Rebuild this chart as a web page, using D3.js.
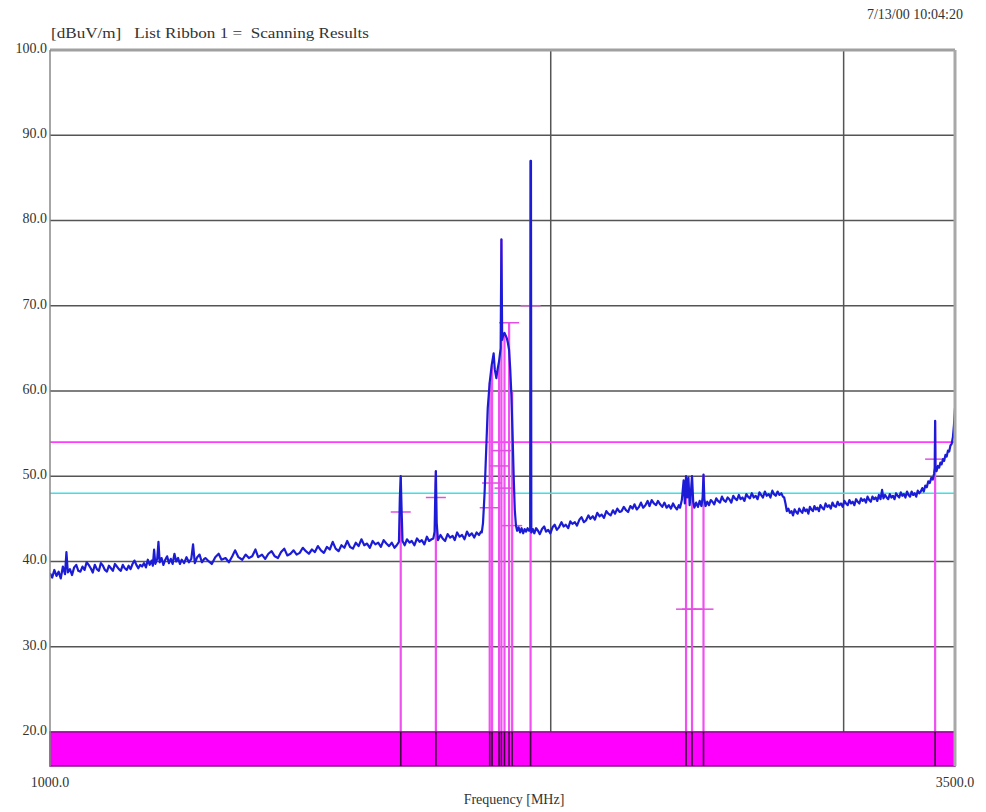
<!DOCTYPE html>
<html>
<head>
<meta charset="utf-8">
<script src="https://cdn.jsdelivr.net/npm/d3@7"></script>
<style>
  html, body { margin: 0; padding: 0; background: #fff; }
  svg { display: block; }
  text { font-family: "Liberation Serif", "DejaVu Serif", serif; fill: #333; }
</style>
</head>
<body>
<script>
// Scan trace: [frequency MHz, level dBuV/m]
const scan = [
  [1000,38.6],[1003,38.1],[1006,39.0],[1009,38.3],[1012,38.8],[1015,38.0],[1018,39.4],[1021,38.5],[1023,41.1],[1025,38.7],
  [1028,39.1],[1031,38.4],[1034,39.3],[1037,39.6],[1040,38.9],[1043,38.8],[1046,39.4],[1049,39.0],[1052,39.9],[1055,39.6],
  [1058,39.2],[1061,38.7],[1064,39.6],[1067,39.1],[1070,38.9],[1073,39.8],[1076,39.5],[1079,39.0],[1082,38.8],[1085,39.5],
  [1088,39.2],[1091,38.9],[1094,39.7],[1097,39.4],[1100,39.1],[1103,38.9],[1106,39.6],[1109,39.2],[1112,39.0],[1115,39.5],
  [1118,39.1],[1121,39.7],[1124,40.1],[1127,39.6],[1130,39.2],[1133,39.6],[1136,39.4],[1139,39.8],[1142,39.3],[1145,40.2],
  [1148,39.6],[1151,40.1],[1153,39.5],[1155,41.4],[1157,39.7],[1160,40.3],[1162,42.3],[1164,39.9],[1167,40.4],[1170,39.6],
  [1173,40.2],[1176,40.6],[1179,39.8],[1182,40.3],[1185,39.7],[1188,40.9],[1191,40.0],[1194,40.4],[1197,39.7],[1200,40.2],
  [1204,39.8],[1208,40.5],[1212,39.9],[1216,40.3],[1219,42.0],[1222,39.8],[1226,40.5],[1230,40.8],[1234,39.9],[1238,40.3],
  [1240,40.4],[1246,40.0],[1251,39.7],[1257,40.5],[1263,40.9],[1268,40.2],[1275,40.4],[1281,39.9],[1287,40.6],[1292,41.3],
  [1298,40.5],[1305,40.2],[1311,40.8],[1317,40.4],[1323,40.6],[1329,41.4],[1334,40.5],[1341,40.8],[1347,40.3],[1353,40.9],
  [1359,41.2],[1365,40.6],[1371,40.4],[1377,41.1],[1383,41.5],[1389,40.7],[1395,40.9],[1401,41.3],[1407,40.8],[1413,41.0],
  [1419,41.6],[1425,41.2],[1431,40.9],[1437,41.4],[1443,41.1],[1449,41.8],[1455,41.3],[1461,41.0],[1467,41.7],[1473,41.4],
  [1479,42.3],[1485,41.5],[1491,41.2],[1497,41.9],[1503,41.6],[1509,42.4],[1515,41.7],[1521,41.5],[1527,42.2],[1533,41.8],
  [1539,42.6],[1545,41.9],[1551,42.1],[1557,41.6],[1563,42.4],[1569,42.0],[1575,42.2],[1581,41.7],[1587,42.5],[1593,42.1],
  [1599,41.8],[1605,42.2],[1611,41.6],[1616,41.9],[1621,42.3],[1623,47.5],[1625,50.0],[1627,46.0],[1629,42.4],[1634,41.9],
  [1639,42.6],[1645,42.2],[1650,42.4],[1656,41.9],[1662,42.7],[1668,42.3],[1673,42.5],[1679,42.0],[1685,42.9],[1690,42.4],
  [1696,42.6],[1700,42.7],[1703,43.5],[1705,49.0],[1706,50.6],[1708,44.5],[1711,42.5],[1717,43.1],[1722,42.7],[1728,42.4],
  [1734,43.2],[1740,42.8],[1746,43.0],[1751,42.5],[1757,43.4],[1763,42.9],[1769,43.1],[1775,42.6],[1781,43.5],[1787,43.0],
  [1793,43.3],[1799,42.8],[1805,43.4],[1811,43.1],[1816,43.5],[1818,43.4],[1821,44.5],[1825,48.0],
  [1829,53.0],[1833,58.0],[1838,61.0],[1843,63.0],[1848,64.4],[1851,62.5],[1855,61.5],[1858,62.5],[1862,63.5],[1866,65.0],
  [1868,77.8],[1870,66.0],[1873,66.6],[1876,66.8],[1879,66.5],[1882,66.2],[1885,65.6],[1888,64.8],[1891,62.5],[1894,59.5],
  [1897,55.0],[1900,50.0],[1903,46.0],[1906,44.2],[1909,43.6],[1913,44.0],[1917,43.4],[1921,43.9],[1925,43.3],[1929,43.8],
  [1933,43.5],[1937,43.9],[1941,43.6],[1944,43.8],[1945,87.0],[1946,87.0],[1947,43.4],[1951,43.8],
  [1955,43.3],[1960,43.9],[1965,43.6],[1970,43.2],[1976,43.8],[1982,44.1],[1987,43.5],[1993,43.7],[1999,43.3],[2005,44.0],
  [2011,44.3],[2017,43.7],[2023,44.0],[2030,44.6],[2036,44.1],[2042,44.3],[2049,43.9],[2055,44.7],[2061,44.4],[2068,44.6],
  [2074,44.2],[2081,44.9],[2087,45.2],[2094,44.6],[2100,44.8],[2107,45.4],[2113,45.0],[2120,45.3],[2126,44.9],[2133,45.7],
  [2140,45.3],[2146,45.5],[2153,45.1],[2160,45.9],[2166,45.6],[2173,45.4],[2180,46.0],[2186,45.6],[2193,46.2],[2200,45.8],
  [2206,45.9],[2213,46.4],[2220,46.0],[2226,45.8],[2233,46.5],[2240,46.2],[2246,46.7],[2253,46.1],[2260,46.4],[2266,46.9],
  [2273,46.3],[2280,46.6],[2287,47.1],[2293,46.5],[2300,47.2],[2307,46.8],[2314,46.6],[2320,47.1],[2327,46.7],[2334,46.4],
  [2341,46.9],[2348,46.3],[2355,46.6],[2362,46.2],[2369,46.8],[2375,46.4],[2382,46.1],[2388,46.6],[2392,46.3],
  [2398,47.2],[2404,49.5],[2408,46.8],[2412,50.0],[2416,47.5],[2420,49.8],[2424,46.6],[2428,48.0],
  [2432,50.0],[2436,47.0],[2440,46.3],[2446,46.9],[2452,46.4],[2458,47.1],[2464,46.5],[2468,47.5],[2471,50.2],[2474,47.3],
  [2478,46.5],[2484,47.0],[2490,46.6],[2496,47.2],[2502,47.0],[2508,46.7],[2515,47.4],[2521,47.1],[2528,46.9],[2535,47.6],
  [2541,47.2],[2548,47.0],[2555,47.5],[2561,47.3],[2568,46.9],[2575,47.7],[2581,47.4],[2588,47.2],[2595,47.8],[2601,47.3],
  [2608,47.5],[2615,47.1],[2622,47.9],[2628,47.6],[2635,47.4],[2642,48.0],[2649,47.5],[2656,47.7],[2663,47.3],[2670,48.1],
  [2676,47.8],[2683,47.5],[2690,48.2],[2697,47.7],[2704,47.9],[2711,47.5],[2718,48.3],[2724,47.9],[2731,47.7],[2738,48.2],
  [2745,47.8],[2752,48.0],[2758,47.6],[2763,47.5],[2768,46.8],[2773,45.9],[2779,46.2],[2785,45.7],[2791,45.9],[2797,45.4],
  [2803,46.1],[2809,45.8],[2815,45.6],[2821,46.2],[2827,45.9],[2833,45.7],[2839,46.3],[2845,45.9],[2851,46.1],[2857,45.6],
  [2863,46.4],[2869,46.1],[2875,45.9],[2881,46.5],[2887,46.1],[2893,46.3],[2899,45.9],[2905,46.6],[2912,46.3],[2919,46.1],
  [2926,46.8],[2933,46.4],[2940,46.6],[2947,46.2],[2954,46.9],[2961,46.5],[2968,46.4],[2975,47.0],[2982,46.6],[2989,46.8],
  [2996,46.4],[3003,47.1],[3010,46.8],[3017,46.6],[3024,47.2],[3031,46.8],[3038,47.0],[3045,46.6],[3052,47.3],[3059,47.0],
  [3066,46.8],[3073,47.4],[3080,47.1],[3087,47.3],[3094,46.9],[3101,47.6],[3108,47.2],[3115,47.0],[3122,47.6],[3129,47.3],
  [3136,47.5],[3143,47.1],[3150,47.8],[3157,47.3],[3164,48.4],[3170,47.4],[3177,47.8],[3184,47.5],[3191,47.3],[3198,47.9],
  [3205,47.5],[3212,47.7],[3219,47.3],[3226,48.0],[3233,47.7],[3240,47.5],[3247,48.1],[3254,47.7],[3261,47.9],[3268,47.5],
  [3275,48.2],[3282,47.8],[3289,47.6],[3296,48.2],[3303,47.8],[3310,48.0],[3317,47.6],[3324,48.3],[3331,48.0],[3338,48.2],
  [3345,48.6],[3352,48.2],[3359,48.9],[3366,48.7],[3373,49.4],[3380,49.2],[3387,49.8],[3394,49.6],[3400,50.3],[3403,51.0],
  [3405,56.5],[3407,50.8],[3412,50.6],[3418,51.2],[3424,51.0],[3430,51.6],[3436,51.4],[3442,52.0],[3448,51.8],[3454,52.5],
  [3460,52.3],[3466,53.0],[3472,52.9],[3478,53.6],[3484,53.8],[3490,54.6],[3495,56.0],[3500,58.0]
];

// Final-measurement markers: frequency, peak level, quasi-peak level
const markerFreq = [1625, 1706, 1838, 1844, 1862, 1868, 1876, 1888, 1896, 1945, 2412, 2432, 2471, 3405];
const markerPeak = [50.0, 50.6, 61.0, 63.0, 63.5, 77.8, 66.8, 68.0, 60.0, 87.0, 50.0, 50.0, 50.2, 56.5];
const markerQP   = [45.8, 47.5, 46.3, 49.2, 51.2, 53.0, 48.6, 68.0, 44.2, 70.0, 34.4, 34.4, 34.4, 52.0];

// Limit lines
const limitLevel = 54;
const refLevel = 48;

// Axes
const yTicks = [100, 90, 80, 70, 60, 50, 40, 30, 20];
const yTickLabels = ["100.0", "90.0", "80.0", "70.0", "60.0", "50.0", "40.0", "30.0", "20.0"];
const yGrid = [90, 80, 70, 60, 50, 40, 30];
const xGrid = [2000, 3000];
const xTicks = [1000, 3500];
const xTickLabels = ["1000.0", "3500.0"];
const freqMin = 1000, freqMax = 3500;
const levelMin = 16, levelMax = 100, bandTop = 20;

const W = 986, H = 812;
const svg = d3.select("body").append("svg").attr("width", W).attr("height", H);

const x = d3.scaleLog().domain([freqMin, freqMax]).range([50, 955]);
const y = d3.scaleLinear().domain([levelMin, levelMax]).range([766, 50]);

svg.append("rect").attr("width", W).attr("height", H).attr("fill", "#fff");

svg.append("defs").append("clipPath").attr("id", "plot")
  .append("rect").attr("x", x(freqMin)).attr("y", y(levelMax))
  .attr("width", x(freqMax) - x(freqMin)).attr("height", y(levelMin) - y(levelMax));

// Grid
svg.append("g").selectAll("line").data(yGrid).join("line")
  .attr("x1", x(freqMin)).attr("x2", x(freqMax))
  .attr("y1", d => y(d)).attr("y2", d => y(d))
  .attr("stroke", "#555").attr("stroke-width", 1.5);
svg.append("g").selectAll("line").data(xGrid).join("line")
  .attr("x1", d => x(d)).attr("x2", d => x(d))
  .attr("y1", y(levelMax)).attr("y2", y(bandTop))
  .attr("stroke", "#555").attr("stroke-width", 1.5);

// Limit lines
svg.append("line").attr("x1", x(freqMin)).attr("x2", x(freqMax))
  .attr("y1", y(limitLevel)).attr("y2", y(limitLevel))
  .attr("stroke", "#ff3cff").attr("stroke-width", 1.6);
svg.append("line").attr("x1", x(freqMin)).attr("x2", x(freqMax))
  .attr("y1", y(refLevel)).attr("y2", y(refLevel))
  .attr("stroke", "#3ee0e6").attr("stroke-width", 1.6);

// Marker verticals and quasi-peak ticks
const markers = markerFreq.map((f, i) => ({ f, peak: markerPeak[i], qp: markerQP[i] }));
const mg = svg.append("g").attr("clip-path", "url(#plot)");
mg.selectAll("line.v").data(markers).join("line").attr("class", "v")
  .attr("x1", d => x(d.f)).attr("x2", d => x(d.f))
  .attr("y1", y(bandTop)).attr("y2", d => y(d.peak))
  .attr("stroke", "#f050f0").attr("stroke-width", 2.2);
mg.selectAll("line.t").data(markers).join("line").attr("class", "t")
  .attr("x1", d => x(d.f) - 10).attr("x2", d => x(d.f) + 10)
  .attr("y1", d => y(d.qp)).attr("y2", d => y(d.qp))
  .attr("stroke", "#e050e0").attr("stroke-width", 1.5);

// Trace
const line = d3.line().x(d => x(d[0])).y(d => y(d[1]));
svg.append("path").datum(scan).attr("clip-path", "url(#plot)")
  .attr("d", line).attr("fill", "none")
  .attr("stroke", "#1c1cd6").attr("stroke-width", 2.2).attr("stroke-linejoin", "round");

// Marker band along the bottom
svg.append("rect").attr("x", x(freqMin)).attr("y", y(bandTop))
  .attr("width", x(freqMax) - x(freqMin)).attr("height", y(levelMin) - y(bandTop))
  .attr("fill", "#ff00ff").attr("stroke", "#8a0a8a").attr("stroke-width", 1.5);
svg.append("g").selectAll("line").data(markers).join("line")
  .attr("x1", d => x(d.f)).attr("x2", d => x(d.f))
  .attr("y1", y(bandTop)).attr("y2", y(levelMin))
  .attr("stroke", "#3a003a").attr("stroke-width", 1.6);

// Frame
svg.append("line").attr("x1", x(freqMin)).attr("x2", x(freqMax))
  .attr("y1", y(levelMax)).attr("y2", y(levelMax))
  .attr("stroke", "#a0a0a0").attr("stroke-width", 3);
svg.append("line").attr("x1", x(freqMin)).attr("x2", x(freqMin))
  .attr("y1", y(levelMax)).attr("y2", y(levelMin))
  .attr("stroke", "#888").attr("stroke-width", 1.5);
svg.append("line").attr("x1", x(freqMax)).attr("x2", x(freqMax))
  .attr("y1", y(levelMax)).attr("y2", y(levelMin))
  .attr("stroke", "#a8a8a8").attr("stroke-width", 3);

// Tick labels
svg.append("g").selectAll("text").data(yTicks).join("text")
  .attr("x", 47).attr("y", d => y(d) + 3)
  .attr("text-anchor", "end").attr("font-size", 14)
  .text((d, i) => yTickLabels[i]);
svg.append("g").selectAll("text").data(xTicks).join("text")
  .attr("x", d => x(d)).attr("y", 787)
  .attr("text-anchor", "middle").attr("font-size", 14)
  .text((d, i) => xTickLabels[i]);

// Titles
svg.append("text").attr("x", 51).attr("y", 38).attr("font-size", 14)
  .attr("textLength", 318).attr("lengthAdjust", "spacingAndGlyphs")
  .attr("xml:space", "preserve")
  .text("[dBuV/m]   List Ribbon 1 =  Scanning Results");
svg.append("text").attr("x", 963).attr("y", 19).attr("font-size", 14)
  .attr("text-anchor", "end")
  .text("7/13/00 10:04:20");
svg.append("text").attr("x", 514).attr("y", 804).attr("font-size", 14)
  .attr("text-anchor", "middle")
  .text("Frequency [MHz]");
</script>
</body>
</html>
